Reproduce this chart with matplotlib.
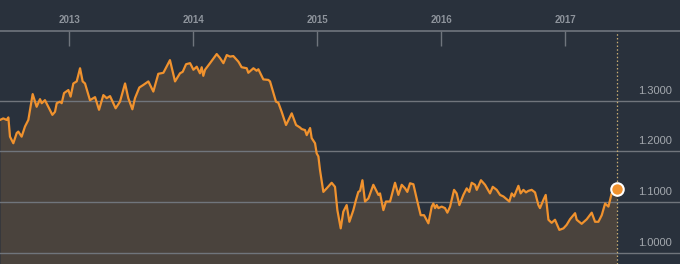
import numpy as np
import matplotlib
matplotlib.use('Agg')
import matplotlib.pyplot as plt
from matplotlib.transforms import offset_copy

# EUR/USD, dates as decimal years
years = [2012.444, 2012.470, 2012.497, 2012.511, 2012.524, 2012.551, 2012.578, 2012.591,
         2012.618, 2012.645, 2012.672, 2012.707, 2012.739, 2012.766, 2012.780, 2012.806,
         2012.833, 2012.866, 2012.887, 2012.901, 2012.927, 2012.941, 2012.960, 2012.995,
         2013.013, 2013.035, 2013.062, 2013.089, 2013.110, 2013.129, 2013.169, 2013.210,
         2013.242, 2013.277, 2013.304, 2013.331, 2013.376, 2013.411, 2013.452, 2013.478,
         2013.511, 2013.532, 2013.567, 2013.599, 2013.640, 2013.680, 2013.720, 2013.761,
         2013.814, 2013.855, 2013.895, 2013.917, 2013.944, 2013.976, 2013.989, 2014.003,
         2014.030, 2014.056, 2014.070, 2014.083, 2014.097, 2014.137, 2014.191, 2014.218,
         2014.245, 2014.272, 2014.298, 2014.325, 2014.366, 2014.392, 2014.433, 2014.446,
         2014.487, 2014.513, 2014.527, 2014.567, 2014.607, 2014.621, 2014.669, 2014.688,
         2014.715, 2014.750, 2014.796, 2014.831, 2014.863, 2014.876, 2014.903, 2014.917,
         2014.944, 2014.957, 2014.984, 2014.997, 2015.011, 2015.024, 2015.051, 2015.078,
         2015.118, 2015.145, 2015.164, 2015.191, 2015.212, 2015.239, 2015.261, 2015.293,
         2015.314, 2015.333, 2015.347, 2015.366, 2015.387, 2015.414, 2015.454, 2015.495,
         2015.508, 2015.535, 2015.556, 2015.589, 2015.629, 2015.656, 2015.683, 2015.710,
         2015.728, 2015.750, 2015.777, 2015.809, 2015.836, 2015.863, 2015.898, 2015.925,
         2015.938, 2015.952, 2015.965, 2015.979, 2016.005, 2016.032, 2016.051, 2016.073,
         2016.105, 2016.126, 2016.148, 2016.180, 2016.207, 2016.228, 2016.247, 2016.274,
         2016.288, 2016.322, 2016.355, 2016.395, 2016.417, 2016.449, 2016.476, 2016.503,
         2016.551, 2016.570, 2016.589, 2016.624, 2016.642, 2016.664, 2016.685, 2016.704,
         2016.731, 2016.758, 2016.785, 2016.798, 2016.825, 2016.844, 2016.866, 2016.892,
         2016.919, 2016.954, 2016.987, 2017.013, 2017.040, 2017.081, 2017.094, 2017.134,
         2017.175, 2017.215, 2017.242, 2017.269, 2017.296, 2017.323, 2017.350, 2017.376,
         2017.417]
rates = [1.262, 1.265, 1.262, 1.267, 1.229, 1.216, 1.236, 1.239,
         1.229, 1.249, 1.262, 1.313, 1.288, 1.303, 1.295, 1.301,
         1.288, 1.272, 1.278, 1.295, 1.298, 1.295, 1.315, 1.321,
         1.308, 1.334, 1.338, 1.364, 1.338, 1.334, 1.301, 1.307,
         1.282, 1.311, 1.305, 1.309, 1.285, 1.298, 1.334, 1.305,
         1.283, 1.305, 1.326, 1.331, 1.338, 1.318, 1.353, 1.355,
         1.380, 1.338, 1.354, 1.357, 1.372, 1.374, 1.368, 1.361,
         1.367, 1.354, 1.366, 1.349, 1.361, 1.374, 1.392, 1.384,
         1.374, 1.390, 1.387, 1.388, 1.377, 1.366, 1.364, 1.355,
         1.364, 1.359, 1.362, 1.342, 1.341, 1.338, 1.298, 1.296,
         1.278, 1.252, 1.275, 1.252, 1.247, 1.244, 1.242, 1.232,
         1.246, 1.226, 1.216, 1.196, 1.190, 1.163, 1.120, 1.127,
         1.138, 1.130, 1.084, 1.048, 1.081, 1.094, 1.061, 1.084,
         1.104, 1.120, 1.122, 1.143, 1.101, 1.107, 1.134, 1.114,
         1.117, 1.084, 1.101, 1.101, 1.138, 1.114, 1.134, 1.127,
         1.120, 1.137, 1.135, 1.101, 1.074, 1.074, 1.058, 1.091,
         1.097, 1.088, 1.094, 1.088, 1.091, 1.088, 1.079, 1.091,
         1.124, 1.117, 1.094, 1.114, 1.127, 1.120, 1.138, 1.134,
         1.124, 1.143, 1.134, 1.117, 1.130, 1.124, 1.114, 1.111,
         1.101, 1.117, 1.111, 1.132, 1.117, 1.124, 1.119, 1.122,
         1.124, 1.119, 1.094, 1.088, 1.104, 1.114, 1.065, 1.059,
         1.065, 1.045, 1.048, 1.055, 1.066, 1.078, 1.065, 1.057,
         1.066, 1.079, 1.061, 1.061, 1.074, 1.097, 1.091, 1.117,
         1.126]

year_ticks = [2013, 2014, 2015, 2016, 2017]
rate_ticks = [1.0, 1.1, 1.2, 1.3]

bg = '#29313c'
orange = '#f0922e'

plt.rcParams['font.family'] = ['Liberation Sans', 'DejaVu Sans']

fig = plt.figure(figsize=(6.8, 2.64), dpi=100, facecolor=bg)
ax = fig.add_axes([0, 0, 1, 233 / 264])
ax.set_facecolor(bg)

ax.set_xlim(2012.4435, 2017.927)
ax.set_ylim(0.9777, 1.4375)

ax.fill_between(years, rates, 0.9777, color='#4a433d', lw=0, zorder=1)
for r in rate_ticks:
    ax.axhline(r, color='#70757c', lw=1, zorder=2)
ax.plot(years, rates, color=orange, lw=1.6, zorder=3, solid_joinstyle='round')
ax.axvline(years[-1], color='#c9ad72', lw=0.9, ls=(0, (1.2, 1.8)), zorder=2)
ax.plot(years[-1], rates[-1], 'o', ms=9, mfc=orange, mec='white', mew=1.5, zorder=4)

# year labels on top
ax.set_xticks(year_ticks)
ax.set_xticklabels([str(y) for y in year_ticks])
ax.tick_params(axis='x', top=True, bottom=False, labeltop=True, labelbottom=False,
               direction='in', length=11, width=1, color='#6f757d', pad=4.5,
               labelsize=7, labelcolor='#8e949c')
for t in ax.get_xticklabels():
    t.set_fontweight('bold')
ax.set_yticks([])

for s in ['left', 'right', 'bottom']:
    ax.spines[s].set_visible(False)
ax.spines['top'].set_color('#6f757d')
ax.spines['top'].set_linewidth(1.2)

# value labels sit above the grid lines on the right
tr = offset_copy(ax.get_yaxis_transform(), fig=fig, y=10, units='dots')
for r in rate_ticks:
    ax.text(672 / 680, r, '%.4f' % r, transform=tr, ha='right', va='center',
            fontsize=8, color='#a3a8ae', zorder=5)

fig.savefig('out.png', dpi=100, facecolor=bg)
